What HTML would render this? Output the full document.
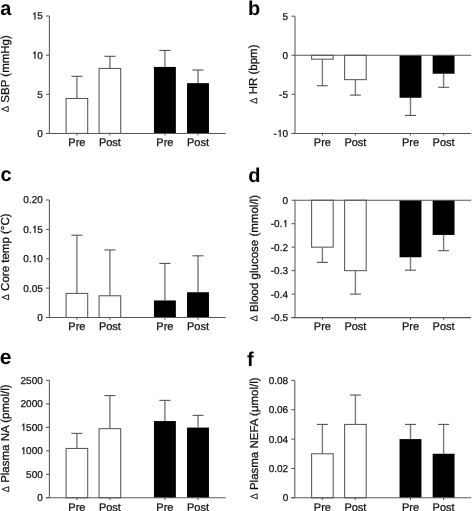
<!DOCTYPE html>
<html><head><meta charset="utf-8"><style>
html,body{margin:0;padding:0;background:#fff;}
body{width:472px;height:511px;overflow:hidden;}
svg{display:block;filter:grayscale(1);}
text{font-family:"Liberation Sans",sans-serif;text-rendering:geometricPrecision;fill:#111;stroke:#111;stroke-width:0.25px;}
.let{font-size:20px;font-weight:bold;fill:#000;stroke:none;}
.yl{font-size:11.5px;text-anchor:middle;}
.dl{font-size:9.8px;fill:none;stroke:none;}
.tk{font-size:10px;text-anchor:end;}
.hid{fill:none;stroke:none;}
.one{fill:#111;stroke:#111;stroke-width:51.2;}
.xl{font-size:11px;text-anchor:middle;}
</style></head><body>
<svg width="472" height="511" viewBox="0 0 472 511">
<rect width="472" height="511" fill="#fff"/>
<text x="0.3" y="14.6" class="let">a</text>
<path d="M8.2 106.44L1.6 109.04L8.2 111.64Z" fill="none" stroke="#111" stroke-width="0.95" stroke-linejoin="miter"/>
<text class="yl" transform="translate(8.8 74.2) rotate(-90)" x="0" y="0"><tspan class="dl">Δ</tspan><tspan dx="0.8"> </tspan>SBP (mmHg)</text>
<text class="tk" x="42.8" y="136.8">0</text>
<text class="tk" x="42.8" y="97.67">5</text>
<path class="one" transform="translate(31.68 58.53) scale(0.004883 -0.004883)" d="M763 0L583 0L583 1147C540 1106 483 1068 420 1034C385 1015 350 1000 320 988L320 1150C390 1186 450 1228 505 1282C560 1340 610 1405 640 1466L763 1466Z"/>
<text class="tk" x="42.8" y="58.53"><tspan class="hid">1</tspan>0</text>
<path class="one" transform="translate(31.68 19.4) scale(0.004883 -0.004883)" d="M763 0L583 0L583 1147C540 1106 483 1068 420 1034C385 1015 350 1000 320 988L320 1150C390 1186 450 1228 505 1282C560 1340 610 1405 640 1466L763 1466Z"/>
<text class="tk" x="42.8" y="19.4"><tspan class="hid">1</tspan>5</text>
<line x1="76.9" y1="98.49" x2="76.9" y2="76.34" stroke="#7a7a7a" stroke-width="1.4"/>
<line x1="71.4" y1="76.34" x2="82.4" y2="76.34" stroke="#555" stroke-width="1.1"/>
<rect x="66.1" y="98.49" width="21.6" height="34.91" fill="#fff" stroke="#585858" stroke-width="1.05"/>
<line x1="109.9" y1="68.44" x2="109.9" y2="56.31" stroke="#7a7a7a" stroke-width="1.4"/>
<line x1="104.4" y1="56.31" x2="115.4" y2="56.31" stroke="#555" stroke-width="1.1"/>
<rect x="99.1" y="68.44" width="21.6" height="64.96" fill="#fff" stroke="#585858" stroke-width="1.05"/>
<line x1="164.9" y1="66.95" x2="164.9" y2="50.44" stroke="#7a7a7a" stroke-width="1.4"/>
<line x1="159.4" y1="50.44" x2="170.4" y2="50.44" stroke="#555" stroke-width="1.1"/>
<rect x="153.95" y="66.95" width="21.9" height="66.45" fill="#000"/>
<line x1="198" y1="83.15" x2="198" y2="70" stroke="#7a7a7a" stroke-width="1.4"/>
<line x1="192.5" y1="70" x2="203.5" y2="70" stroke="#555" stroke-width="1.1"/>
<rect x="187.05" y="83.15" width="21.9" height="50.25" fill="#000"/>
<line x1="49.4" y1="16" x2="49.4" y2="133.4" stroke="#585858" stroke-width="1.05"/>
<line x1="45.9" y1="133.4" x2="49.4" y2="133.4" stroke="#585858" stroke-width="1.05"/>
<line x1="45.9" y1="94.27" x2="49.4" y2="94.27" stroke="#585858" stroke-width="1.05"/>
<line x1="45.9" y1="55.13" x2="49.4" y2="55.13" stroke="#585858" stroke-width="1.05"/>
<line x1="45.9" y1="16" x2="49.4" y2="16" stroke="#585858" stroke-width="1.05"/>
<line x1="45.9" y1="133.4" x2="225.8" y2="133.4" stroke="#585858" stroke-width="1.05"/>
<line x1="76.9" y1="133.4" x2="76.9" y2="135.6" stroke="#585858" stroke-width="1.05"/>
<text class="xl" x="76.9" y="146.2">Pre</text>
<line x1="109.9" y1="133.4" x2="109.9" y2="135.6" stroke="#585858" stroke-width="1.05"/>
<text class="xl" x="109.9" y="146.2">Post</text>
<line x1="164.9" y1="133.4" x2="164.9" y2="135.6" stroke="#585858" stroke-width="1.05"/>
<text class="xl" x="164.9" y="146.2">Pre</text>
<line x1="198" y1="133.4" x2="198" y2="135.6" stroke="#585858" stroke-width="1.05"/>
<text class="xl" x="198" y="146.2">Post</text>
<text x="248" y="14.9" class="let">b</text>
<path d="M256.8 98.1L250.2 100.7L256.8 103.3Z" fill="none" stroke="#111" stroke-width="0.95" stroke-linejoin="miter"/>
<text class="yl" transform="translate(257.4 74.7) rotate(-90)" x="0" y="0"><tspan class="dl">Δ</tspan><tspan dx="0.8"> </tspan>HR (bpm)</text>
<path class="one" transform="translate(276.88 136.8) scale(0.004883 -0.004883)" d="M763 0L583 0L583 1147C540 1106 483 1068 420 1034C385 1015 350 1000 320 988L320 1150C390 1186 450 1228 505 1282C560 1340 610 1405 640 1466L763 1466Z"/>
<text class="tk" x="288" y="136.8">-<tspan class="hid">1</tspan>0</text>
<text class="tk" x="288" y="97.73">-5</text>
<text class="tk" x="288" y="58.67">0</text>
<text class="tk" x="288" y="19.6">5</text>
<line x1="322.4" y1="59.17" x2="322.4" y2="85.74" stroke="#7a7a7a" stroke-width="1.4"/>
<line x1="316.9" y1="85.74" x2="327.9" y2="85.74" stroke="#555" stroke-width="1.1"/>
<rect x="311.6" y="55.27" width="21.6" height="3.91" fill="#fff" stroke="#585858" stroke-width="1.05"/>
<line x1="355.4" y1="79.64" x2="355.4" y2="95.11" stroke="#7a7a7a" stroke-width="1.4"/>
<line x1="349.9" y1="95.11" x2="360.9" y2="95.11" stroke="#555" stroke-width="1.1"/>
<rect x="344.6" y="55.27" width="21.6" height="24.38" fill="#fff" stroke="#585858" stroke-width="1.05"/>
<line x1="410.5" y1="97.77" x2="410.5" y2="115.43" stroke="#7a7a7a" stroke-width="1.4"/>
<line x1="405" y1="115.43" x2="416" y2="115.43" stroke="#555" stroke-width="1.1"/>
<rect x="399.55" y="55.27" width="21.9" height="42.5" fill="#000"/>
<line x1="443.6" y1="73.71" x2="443.6" y2="87.3" stroke="#7a7a7a" stroke-width="1.4"/>
<line x1="438.1" y1="87.3" x2="449.1" y2="87.3" stroke="#555" stroke-width="1.1"/>
<rect x="432.65" y="55.27" width="21.9" height="18.44" fill="#000"/>
<line x1="295" y1="16.2" x2="295" y2="133.4" stroke="#585858" stroke-width="1.05"/>
<line x1="291.5" y1="133.4" x2="295" y2="133.4" stroke="#585858" stroke-width="1.05"/>
<line x1="291.5" y1="94.33" x2="295" y2="94.33" stroke="#585858" stroke-width="1.05"/>
<line x1="291.5" y1="55.27" x2="295" y2="55.27" stroke="#585858" stroke-width="1.05"/>
<line x1="291.5" y1="16.2" x2="295" y2="16.2" stroke="#585858" stroke-width="1.05"/>
<line x1="291.5" y1="133.4" x2="471.2" y2="133.4" stroke="#585858" stroke-width="1.05"/>
<line x1="295" y1="55.27" x2="471.2" y2="55.27" stroke="#585858" stroke-width="1.05"/>
<line x1="322.4" y1="133.4" x2="322.4" y2="135.6" stroke="#585858" stroke-width="1.05"/>
<text class="xl" x="322.4" y="146.2">Pre</text>
<line x1="355.4" y1="133.4" x2="355.4" y2="135.6" stroke="#585858" stroke-width="1.05"/>
<text class="xl" x="355.4" y="146.2">Post</text>
<line x1="410.5" y1="133.4" x2="410.5" y2="135.6" stroke="#585858" stroke-width="1.05"/>
<text class="xl" x="410.5" y="146.2">Pre</text>
<line x1="443.6" y1="133.4" x2="443.6" y2="135.6" stroke="#585858" stroke-width="1.05"/>
<text class="xl" x="443.6" y="146.2">Post</text>
<text x="0.4" y="180.6" class="let">c</text>
<path d="M8.6 294.65L2 297.25L8.6 299.85Z" fill="none" stroke="#111" stroke-width="0.95" stroke-linejoin="miter"/>
<text class="yl" transform="translate(9.2 257.45) rotate(-90)" x="0" y="0"><tspan class="dl">Δ</tspan><tspan dx="0.8"> </tspan>Core temp (°C)</text>
<text class="tk" x="42.8" y="320.9">0</text>
<text class="tk" x="42.8" y="291.52">0.05</text>
<path class="one" transform="translate(31.68 262.15) scale(0.004883 -0.004883)" d="M763 0L583 0L583 1147C540 1106 483 1068 420 1034C385 1015 350 1000 320 988L320 1150C390 1186 450 1228 505 1282C560 1340 610 1405 640 1466L763 1466Z"/>
<text class="tk" x="42.8" y="262.15">0.<tspan class="hid">1</tspan>0</text>
<path class="one" transform="translate(31.68 232.78) scale(0.004883 -0.004883)" d="M763 0L583 0L583 1147C540 1106 483 1068 420 1034C385 1015 350 1000 320 988L320 1150C390 1186 450 1228 505 1282C560 1340 610 1405 640 1466L763 1466Z"/>
<text class="tk" x="42.8" y="232.78">0.<tspan class="hid">1</tspan>5</text>
<text class="tk" x="42.8" y="203.4">0.20</text>
<line x1="76.9" y1="293.41" x2="76.9" y2="235.25" stroke="#7a7a7a" stroke-width="1.4"/>
<line x1="71.4" y1="235.25" x2="82.4" y2="235.25" stroke="#555" stroke-width="1.1"/>
<rect x="66.1" y="293.41" width="21.6" height="24.09" fill="#fff" stroke="#585858" stroke-width="1.05"/>
<line x1="109.9" y1="295.76" x2="109.9" y2="249.94" stroke="#7a7a7a" stroke-width="1.4"/>
<line x1="104.4" y1="249.94" x2="115.4" y2="249.94" stroke="#555" stroke-width="1.1"/>
<rect x="99.1" y="295.76" width="21.6" height="21.74" fill="#fff" stroke="#585858" stroke-width="1.05"/>
<line x1="164.9" y1="300.46" x2="164.9" y2="263.45" stroke="#7a7a7a" stroke-width="1.4"/>
<line x1="159.4" y1="263.45" x2="170.4" y2="263.45" stroke="#555" stroke-width="1.1"/>
<rect x="153.95" y="300.46" width="21.9" height="17.04" fill="#000"/>
<line x1="198" y1="292.24" x2="198" y2="255.81" stroke="#7a7a7a" stroke-width="1.4"/>
<line x1="192.5" y1="255.81" x2="203.5" y2="255.81" stroke="#555" stroke-width="1.1"/>
<rect x="187.05" y="292.24" width="21.9" height="25.26" fill="#000"/>
<line x1="49.4" y1="200" x2="49.4" y2="317.5" stroke="#585858" stroke-width="1.05"/>
<line x1="45.9" y1="317.5" x2="49.4" y2="317.5" stroke="#585858" stroke-width="1.05"/>
<line x1="45.9" y1="288.12" x2="49.4" y2="288.12" stroke="#585858" stroke-width="1.05"/>
<line x1="45.9" y1="258.75" x2="49.4" y2="258.75" stroke="#585858" stroke-width="1.05"/>
<line x1="45.9" y1="229.38" x2="49.4" y2="229.38" stroke="#585858" stroke-width="1.05"/>
<line x1="45.9" y1="200" x2="49.4" y2="200" stroke="#585858" stroke-width="1.05"/>
<line x1="45.9" y1="317.5" x2="225.8" y2="317.5" stroke="#585858" stroke-width="1.05"/>
<line x1="76.9" y1="317.5" x2="76.9" y2="319.7" stroke="#585858" stroke-width="1.05"/>
<text class="xl" x="76.9" y="330.3">Pre</text>
<line x1="109.9" y1="317.5" x2="109.9" y2="319.7" stroke="#585858" stroke-width="1.05"/>
<text class="xl" x="109.9" y="330.3">Post</text>
<line x1="164.9" y1="317.5" x2="164.9" y2="319.7" stroke="#585858" stroke-width="1.05"/>
<text class="xl" x="164.9" y="330.3">Pre</text>
<line x1="198" y1="317.5" x2="198" y2="319.7" stroke="#585858" stroke-width="1.05"/>
<text class="xl" x="198" y="330.3">Post</text>
<text x="248.2" y="182.4" class="let">d</text>
<path d="M257 315.76L250.4 318.36L257 320.96Z" fill="none" stroke="#111" stroke-width="0.95" stroke-linejoin="miter"/>
<text class="yl" transform="translate(257.6 258.8) rotate(-90)" x="0" y="0"><tspan class="dl">Δ</tspan><tspan dx="0.8"> </tspan>Blood glucose (mmol/l)</text>
<text class="tk" x="288" y="321">-0.5</text>
<text class="tk" x="288" y="297.52">-0.4</text>
<text class="tk" x="288" y="274.04">-0.3</text>
<text class="tk" x="288" y="250.56">-0.2</text>
<path class="one" transform="translate(282.44 227.08) scale(0.004883 -0.004883)" d="M763 0L583 0L583 1147C540 1106 483 1068 420 1034C385 1015 350 1000 320 988L320 1150C390 1186 450 1228 505 1282C560 1340 610 1405 640 1466L763 1466Z"/>
<text class="tk" x="288" y="227.08">-0.<tspan class="hid">1</tspan></text>
<text class="tk" x="288" y="203.6">0</text>
<line x1="322.4" y1="247.16" x2="322.4" y2="262.42" stroke="#7a7a7a" stroke-width="1.4"/>
<line x1="316.9" y1="262.42" x2="327.9" y2="262.42" stroke="#555" stroke-width="1.1"/>
<rect x="311.6" y="200.2" width="21.6" height="46.96" fill="#fff" stroke="#585858" stroke-width="1.05"/>
<line x1="355.4" y1="270.64" x2="355.4" y2="294.12" stroke="#7a7a7a" stroke-width="1.4"/>
<line x1="349.9" y1="294.12" x2="360.9" y2="294.12" stroke="#555" stroke-width="1.1"/>
<rect x="344.6" y="200.2" width="21.6" height="70.44" fill="#fff" stroke="#585858" stroke-width="1.05"/>
<line x1="410.5" y1="257.26" x2="410.5" y2="270.17" stroke="#7a7a7a" stroke-width="1.4"/>
<line x1="405" y1="270.17" x2="416" y2="270.17" stroke="#555" stroke-width="1.1"/>
<rect x="399.55" y="200.2" width="21.9" height="57.06" fill="#000"/>
<line x1="443.6" y1="234.95" x2="443.6" y2="250.68" stroke="#7a7a7a" stroke-width="1.4"/>
<line x1="438.1" y1="250.68" x2="449.1" y2="250.68" stroke="#555" stroke-width="1.1"/>
<rect x="432.65" y="200.2" width="21.9" height="34.75" fill="#000"/>
<line x1="295" y1="200.2" x2="295" y2="317.6" stroke="#585858" stroke-width="1.05"/>
<line x1="291.5" y1="317.6" x2="295" y2="317.6" stroke="#585858" stroke-width="1.05"/>
<line x1="291.5" y1="294.12" x2="295" y2="294.12" stroke="#585858" stroke-width="1.05"/>
<line x1="291.5" y1="270.64" x2="295" y2="270.64" stroke="#585858" stroke-width="1.05"/>
<line x1="291.5" y1="247.16" x2="295" y2="247.16" stroke="#585858" stroke-width="1.05"/>
<line x1="291.5" y1="223.68" x2="295" y2="223.68" stroke="#585858" stroke-width="1.05"/>
<line x1="291.5" y1="200.2" x2="295" y2="200.2" stroke="#585858" stroke-width="1.05"/>
<line x1="291.5" y1="317.6" x2="471.2" y2="317.6" stroke="#585858" stroke-width="1.05"/>
<line x1="295" y1="200.2" x2="471.2" y2="200.2" stroke="#585858" stroke-width="1.05"/>
<line x1="322.4" y1="317.6" x2="322.4" y2="319.8" stroke="#585858" stroke-width="1.05"/>
<text class="xl" x="322.4" y="330.4">Pre</text>
<line x1="355.4" y1="317.6" x2="355.4" y2="319.8" stroke="#585858" stroke-width="1.05"/>
<text class="xl" x="355.4" y="330.4">Post</text>
<line x1="410.5" y1="317.6" x2="410.5" y2="319.8" stroke="#585858" stroke-width="1.05"/>
<text class="xl" x="410.5" y="330.4">Pre</text>
<line x1="443.6" y1="317.6" x2="443.6" y2="319.8" stroke="#585858" stroke-width="1.05"/>
<text class="xl" x="443.6" y="330.4">Post</text>
<text x="-0.2" y="364.2" class="let" style="font-size:21px">e</text>
<path d="M8.7 486.64L2.1 489.24L8.7 491.84Z" fill="none" stroke="#111" stroke-width="0.95" stroke-linejoin="miter"/>
<text class="yl" transform="translate(9.3 438.95) rotate(-90)" x="0" y="0"><tspan class="dl">Δ</tspan><tspan dx="0.8"> </tspan>Plasma NA (pmol/l)</text>
<text class="tk" x="42.8" y="501.2">0</text>
<text class="tk" x="42.8" y="477.7">500</text>
<path class="one" transform="translate(20.55 454.2) scale(0.004883 -0.004883)" d="M763 0L583 0L583 1147C540 1106 483 1068 420 1034C385 1015 350 1000 320 988L320 1150C390 1186 450 1228 505 1282C560 1340 610 1405 640 1466L763 1466Z"/>
<text class="tk" x="42.8" y="454.2"><tspan class="hid">1</tspan>000</text>
<path class="one" transform="translate(20.55 430.7) scale(0.004883 -0.004883)" d="M763 0L583 0L583 1147C540 1106 483 1068 420 1034C385 1015 350 1000 320 988L320 1150C390 1186 450 1228 505 1282C560 1340 610 1405 640 1466L763 1466Z"/>
<text class="tk" x="42.8" y="430.7"><tspan class="hid">1</tspan>500</text>
<text class="tk" x="42.8" y="407.2">2000</text>
<text class="tk" x="42.8" y="383.7">2500</text>
<line x1="76.9" y1="448.45" x2="76.9" y2="433.36" stroke="#7a7a7a" stroke-width="1.4"/>
<line x1="71.4" y1="433.36" x2="82.4" y2="433.36" stroke="#555" stroke-width="1.1"/>
<rect x="66.1" y="448.45" width="21.6" height="49.35" fill="#fff" stroke="#585858" stroke-width="1.05"/>
<line x1="109.9" y1="428.66" x2="109.9" y2="395.58" stroke="#7a7a7a" stroke-width="1.4"/>
<line x1="104.4" y1="395.58" x2="115.4" y2="395.58" stroke="#555" stroke-width="1.1"/>
<rect x="99.1" y="428.66" width="21.6" height="69.14" fill="#fff" stroke="#585858" stroke-width="1.05"/>
<line x1="164.9" y1="421.05" x2="164.9" y2="400.37" stroke="#7a7a7a" stroke-width="1.4"/>
<line x1="159.4" y1="400.37" x2="170.4" y2="400.37" stroke="#555" stroke-width="1.1"/>
<rect x="153.95" y="421.05" width="21.9" height="76.75" fill="#000"/>
<line x1="198" y1="427.58" x2="198" y2="415.36" stroke="#7a7a7a" stroke-width="1.4"/>
<line x1="192.5" y1="415.36" x2="203.5" y2="415.36" stroke="#555" stroke-width="1.1"/>
<rect x="187.05" y="427.58" width="21.9" height="70.22" fill="#000"/>
<line x1="49.4" y1="380.3" x2="49.4" y2="497.8" stroke="#585858" stroke-width="1.05"/>
<line x1="45.9" y1="497.8" x2="49.4" y2="497.8" stroke="#585858" stroke-width="1.05"/>
<line x1="45.9" y1="474.3" x2="49.4" y2="474.3" stroke="#585858" stroke-width="1.05"/>
<line x1="45.9" y1="450.8" x2="49.4" y2="450.8" stroke="#585858" stroke-width="1.05"/>
<line x1="45.9" y1="427.3" x2="49.4" y2="427.3" stroke="#585858" stroke-width="1.05"/>
<line x1="45.9" y1="403.8" x2="49.4" y2="403.8" stroke="#585858" stroke-width="1.05"/>
<line x1="45.9" y1="380.3" x2="49.4" y2="380.3" stroke="#585858" stroke-width="1.05"/>
<line x1="45.9" y1="497.8" x2="225.8" y2="497.8" stroke="#585858" stroke-width="1.05"/>
<line x1="76.9" y1="497.8" x2="76.9" y2="500" stroke="#585858" stroke-width="1.05"/>
<text class="xl" x="76.9" y="510.6">Pre</text>
<line x1="109.9" y1="497.8" x2="109.9" y2="500" stroke="#585858" stroke-width="1.05"/>
<text class="xl" x="109.9" y="510.6">Post</text>
<line x1="164.9" y1="497.8" x2="164.9" y2="500" stroke="#585858" stroke-width="1.05"/>
<text class="xl" x="164.9" y="510.6">Pre</text>
<line x1="198" y1="497.8" x2="198" y2="500" stroke="#585858" stroke-width="1.05"/>
<text class="xl" x="198" y="510.6">Post</text>
<text x="247" y="365.7" class="let">f</text>
<path d="M257.2 493.83L250.6 496.43L257.2 499.03Z" fill="none" stroke="#111" stroke-width="0.95" stroke-linejoin="miter"/>
<text class="yl" transform="translate(257.8 439) rotate(-90)" x="0" y="0"><tspan class="dl">Δ</tspan><tspan dx="0.8"> </tspan>Plasma NEFA (μmol/l)</text>
<text class="tk" x="288.2" y="501.2">0</text>
<text class="tk" x="288.2" y="471.85">0.02</text>
<text class="tk" x="288.2" y="442.5">0.04</text>
<text class="tk" x="288.2" y="413.15">0.06</text>
<text class="tk" x="288.2" y="383.8">0.08</text>
<line x1="322.4" y1="453.77" x2="322.4" y2="424.42" stroke="#7a7a7a" stroke-width="1.4"/>
<line x1="316.9" y1="424.42" x2="327.9" y2="424.42" stroke="#555" stroke-width="1.1"/>
<rect x="311.6" y="453.77" width="21.6" height="44.03" fill="#fff" stroke="#585858" stroke-width="1.05"/>
<line x1="355.4" y1="424.42" x2="355.4" y2="395.07" stroke="#7a7a7a" stroke-width="1.4"/>
<line x1="349.9" y1="395.07" x2="360.9" y2="395.07" stroke="#555" stroke-width="1.1"/>
<rect x="344.6" y="424.42" width="21.6" height="73.38" fill="#fff" stroke="#585858" stroke-width="1.05"/>
<line x1="410.5" y1="439.1" x2="410.5" y2="424.42" stroke="#7a7a7a" stroke-width="1.4"/>
<line x1="405" y1="424.42" x2="416" y2="424.42" stroke="#555" stroke-width="1.1"/>
<rect x="399.55" y="439.1" width="21.9" height="58.7" fill="#000"/>
<line x1="443.6" y1="453.77" x2="443.6" y2="424.42" stroke="#7a7a7a" stroke-width="1.4"/>
<line x1="438.1" y1="424.42" x2="449.1" y2="424.42" stroke="#555" stroke-width="1.1"/>
<rect x="432.65" y="453.77" width="21.9" height="44.03" fill="#000"/>
<line x1="294.8" y1="380.4" x2="294.8" y2="497.8" stroke="#585858" stroke-width="1.05"/>
<line x1="291.3" y1="497.8" x2="294.8" y2="497.8" stroke="#585858" stroke-width="1.05"/>
<line x1="291.3" y1="468.45" x2="294.8" y2="468.45" stroke="#585858" stroke-width="1.05"/>
<line x1="291.3" y1="439.1" x2="294.8" y2="439.1" stroke="#585858" stroke-width="1.05"/>
<line x1="291.3" y1="409.75" x2="294.8" y2="409.75" stroke="#585858" stroke-width="1.05"/>
<line x1="291.3" y1="380.4" x2="294.8" y2="380.4" stroke="#585858" stroke-width="1.05"/>
<line x1="291.3" y1="497.8" x2="471.2" y2="497.8" stroke="#585858" stroke-width="1.05"/>
<line x1="322.4" y1="497.8" x2="322.4" y2="500" stroke="#585858" stroke-width="1.05"/>
<text class="xl" x="322.4" y="510.6">Pre</text>
<line x1="355.4" y1="497.8" x2="355.4" y2="500" stroke="#585858" stroke-width="1.05"/>
<text class="xl" x="355.4" y="510.6">Post</text>
<line x1="410.5" y1="497.8" x2="410.5" y2="500" stroke="#585858" stroke-width="1.05"/>
<text class="xl" x="410.5" y="510.6">Pre</text>
<line x1="443.6" y1="497.8" x2="443.6" y2="500" stroke="#585858" stroke-width="1.05"/>
<text class="xl" x="443.6" y="510.6">Post</text>
</svg>
</body></html>
